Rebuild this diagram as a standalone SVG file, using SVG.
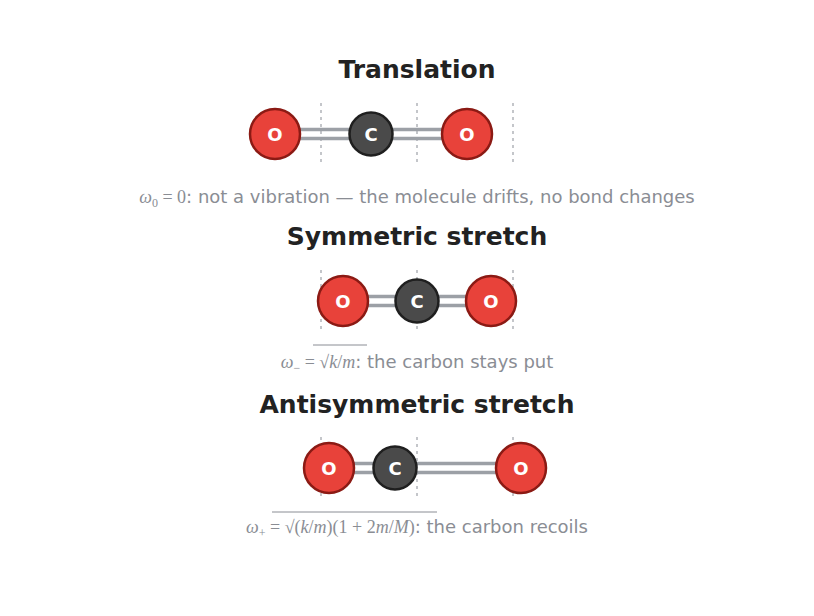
<svg xmlns="http://www.w3.org/2000/svg" width="814" height="616" viewBox="0 0 814 616">
<style>
.t{font-family:"DejaVu Sans","Liberation Sans",sans-serif;font-weight:bold;font-size:25px;fill:#222;text-anchor:middle}
.cap{font-family:"DejaVu Sans","Liberation Sans",sans-serif;font-size:18px;fill:#8a8d94;text-anchor:middle}
.m{font-family:"Liberation Serif",serif;font-style:italic}
.n{font-family:"Liberation Serif",serif}
.g{stroke:#c4c6ca;stroke-width:2;stroke-dasharray:3,4}
.b{stroke:#9ca0a6;stroke-width:3.5}
.o{fill:#e8423a;stroke:#8b1a14;stroke-width:2.5}
.c{fill:#4a4a4a;stroke:#1f1f1f;stroke-width:2.5}
.l{font-family:"DejaVu Sans","Liberation Sans",sans-serif;font-weight:bold;font-size:18px;fill:#fff;text-anchor:middle}
</style>
<rect width="814" height="616" fill="#fff"/>
<g id="guides">
<path class="g" d="M321 103V166M417 103V166M513 103V166M321 270V333M417 270V333M513 270V333M321 437V500M417 437V500M513 437V500"/>
</g>
<g id="connectors">
<path class="b" d="M275 129.5H467M275 138.5H467"/>
<path class="b" d="M343 296.5H491M343 305.5H491"/>
<path class="b" d="M329 463.5H521M329 472.5H521"/>
</g>
<g id="translation">
<text class="t" x="417" y="78">Translation</text>
<g id="t-o1"><circle class="o" cx="275" cy="134" r="25"/><text class="l" x="275" y="140.5">O</text></g>
<g id="t-c"><circle class="c" cx="371" cy="134" r="21.5"/><text class="l" x="371" y="140.5">C</text></g>
<g id="t-o2"><circle class="o" cx="467" cy="134" r="25"/><text class="l" x="467" y="140.5">O</text></g>
<text class="cap" x="417" y="203"><tspan class="m">ω</tspan><tspan class="n" font-size="12" dy="4">0</tspan><tspan class="n" dy="-4"> = 0</tspan>: not a vibration — the molecule drifts, no bond changes</text>
</g>
<g id="symmetric">
<text class="t" x="417" y="245">Symmetric stretch</text>
<g id="s-o1"><circle class="o" cx="343" cy="301" r="25"/><text class="l" x="343" y="307.5">O</text></g>
<g id="s-c"><circle class="c" cx="417" cy="301" r="21.5"/><text class="l" x="417" y="307.5">C</text></g>
<g id="s-o2"><circle class="o" cx="491" cy="301" r="25"/><text class="l" x="491" y="307.5">O</text></g>
<text class="cap" x="417" y="368"><tspan class="m">ω</tspan><tspan class="n" font-size="12" dy="4">−</tspan><tspan class="n" dy="-4"> = √</tspan><tspan class="m">k</tspan><tspan class="n">/</tspan><tspan class="m">m</tspan>: the carbon stays put</text>
<path d="M313 345H367" stroke="#8a8d94" stroke-width="1"/>
</g>
<g id="antisymmetric">
<text class="t" x="417" y="413">Antisymmetric stretch</text>
<g id="a-o1"><circle class="o" cx="329" cy="468" r="25"/><text class="l" x="329" y="474.5">O</text></g>
<g id="a-c"><circle class="c" cx="395" cy="468" r="21.5"/><text class="l" x="395" y="474.5">C</text></g>
<g id="a-o2"><circle class="o" cx="521" cy="468" r="25"/><text class="l" x="521" y="474.5">O</text></g>
<text class="cap" x="417" y="533"><tspan class="m">ω</tspan><tspan class="n" font-size="12" dy="4">+</tspan><tspan class="n" dy="-4"> = √(</tspan><tspan class="m">k</tspan><tspan class="n">/</tspan><tspan class="m">m</tspan><tspan class="n">)(1 + 2</tspan><tspan class="m">m</tspan><tspan class="n">/</tspan><tspan class="m">M</tspan><tspan class="n">)</tspan>: the carbon recoils</text>
<path d="M272 512H437" stroke="#8a8d94" stroke-width="1"/>
</g>
</svg>
